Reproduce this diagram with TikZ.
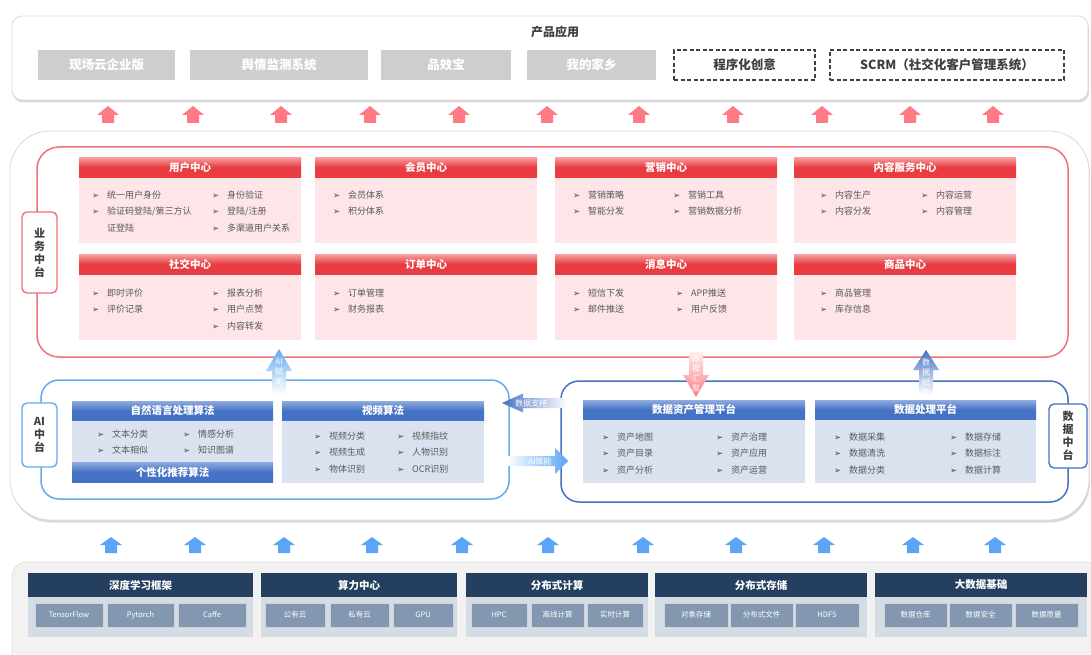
\documentclass[tikz,border=0pt]{standalone}
\usepackage{fontspec}
\setmainfont{Noto Sans CJK SC}
\newfontfamily\symf{DejaVu Sans}
\usetikzlibrary{shadows}

\definecolor{prodgray}{RGB}{208,206,204}
\definecolor{dashgray}{RGB}{64,64,64}
\definecolor{uparrred}{RGB}{255,122,132}
\definecolor{bizred}{RGB}{240,112,122}
\definecolor{hdrred}{RGB}{232,60,64}
\definecolor{hdrredlt}{RGB}{246,160,162}
\definecolor{cardpink}{RGB}{253,229,232}
\definecolor{aiblue}{RGB}{100,170,240}
\definecolor{datablue}{RGB}{68,114,196}
\definecolor{hdrbluelt}{RGB}{142,170,222}
\definecolor{cardblue}{RGB}{218,226,240}
\definecolor{itemgray}{RGB}{89,89,89}
\definecolor{basenavy}{RGB}{36,63,96}
\definecolor{basebody}{RGB}{214,220,228}
\definecolor{baseitem}{RGB}{132,151,176}
\definecolor{basebg}{RGB}{242,242,242}
\definecolor{uparrblue}{RGB}{90,165,245}

\newcommand{\cnitem}[1]{\makebox[15pt][l]{\textcolor{dashgray}{\symf\fontsize{8.5}{8.5}\selectfont ➢}}#1}

\begin{document}
\begin{tikzpicture}[
          x=1pt, y=-1pt,
          panel/.style={
              draw=gray!30,
              fill=white,
              line width=0.8pt,
              drop shadow={shadow xshift=1pt, shadow yshift=-2.5pt, opacity=0.3}
            },
          prod/.style={
              fill=prodgray,
              text=white,
              minimum height=30,
              inner sep=0,
              font=\bfseries\fontsize{12.5}{14}\selectfont
            },
          prodnew/.style={
              draw=dashgray,
              dash pattern=on 4pt off 2.5pt,
              line width=1.1pt,
              text=dashgray,
              minimum height=30,
              inner sep=0,
              font=\bfseries\fontsize{12.5}{14}\selectfont
            },
          sidelabel/.style={
              fill=white,
              rounded corners=5,
              line width=1.4pt,
              align=center,
              inner sep=0,
              text=dashgray,
              font=\bfseries\fontsize{11}{13}\selectfont
            },
          redcard/.style={
              fill=cardpink,
              minimum width=222,
              minimum height=86,
              anchor=north west,
              inner sep=0
            },
          redhead/.style={
              top color=hdrredlt,
              bottom color=hdrred,
              middle color=hdrred,
              minimum width=222,
              minimum height=20,
              anchor=north west,
              inner sep=0,
              text=white,
              font=\bfseries\fontsize{10.5}{12}\selectfont
            },
          bluecard/.style={
              fill=cardblue,
              minimum height=82,
              anchor=north west,
              inner sep=0
            },
          bluehead/.style={
              top color=hdrbluelt,
              bottom color=datablue,
              middle color=datablue,
              minimum height=19,
              anchor=north west,
              inner sep=0,
              text=white,
              font=\bfseries\fontsize{10.5}{12}\selectfont
            },
          itemcol/.style={
              anchor=north west,
              inner sep=0,
              align=left,
              text=itemgray,
              font=\fontsize{9}{16.5}\selectfont
            },
          arrtext/.style={
              text=white,
              align=center,
              inner sep=0,
              font=\fontsize{8}{10}\selectfont
            },
          basebox/.style={
              fill=basebody,
              minimum height=64,
              inner sep=0
            },
          basehead/.style={
              fill=basenavy,
              minimum height=24,
              inner sep=0,
              text=white,
              font=\bfseries\fontsize{10.5}{12}\selectfont
            },
          baseitem/.style={
              fill=baseitem,
              draw=white!60!baseitem,
              line width=0.6pt,
              minimum height=24,
              inner sep=0,
              text=white,
              font=\fontsize{7.5}{9}\selectfont
            }
        ]
        \useasboundingbox (0,0) rectangle (1091,655);

        \node[panel, rounded corners=10, minimum width=1076, minimum height=84] (prodband) at (550,58) {};
        \node[font=\bfseries\fontsize{12}{14}\selectfont, text=dashgray] (prodtitle) at (555,32) {产品应用};
        \node[prod, minimum width=137] (xcy) at (106.5,65) {现场云企业版};
        \node[prod, minimum width=178] (yq) at (279,65) {舆情监测系统};
        \node[prod, minimum width=130] (pxb) at (446,65) {品效宝};
        \node[prod, minimum width=129] (wdjx) at (591.5,65) {我的家乡};
        \node[prodnew, minimum width=141] (cxh) at (744.5,65) {程序化创意};
        \node[prodnew, minimum width=234] (scrm) at (947,65) {SCRM（社交化客户管理系统）};

        \foreach \x in {108,193,281,370,459,547,639,733,822,910,993}
          \fill[uparrred] (\x-6,123) -- (\x-6,115) -- (\x-11,115) -- (\x,106) -- (\x+11,115) -- (\x+6,115) -- (\x+6,123) -- cycle;

        \node[panel, rounded corners=40, minimum width=1079, minimum height=389] (midband) at (549.5,325.5) {};
        \node[draw=bizred, line width=1.5pt, rounded corners=22, minimum width=1031, minimum height=210] (bizbox) at (552.5,252) {};
        \node[draw=aiblue, line width=1.5pt, rounded corners=18, minimum width=468, minimum height=119] (aibox) at (275,439.5) {};
        \node[draw=datablue, line width=1.5pt, rounded corners=18, minimum width=507, minimum height=121] (databox) at (814.5,441.5) {};

        \node[sidelabel, draw=bizred, minimum width=35, minimum height=81] (bizlabel) at (39.5,252.5) {业\\务\\中\\台};
        \node[sidelabel, draw=aiblue, minimum width=35, minimum height=64] (ailabel) at (39.5,435) {AI\\中\\台};
        \node[sidelabel, draw=datablue, minimum width=38, minimum height=64] (datalabel) at (1068,436) {数\\据\\中\\台};

        \node[redcard] (user) at (79,157) {};
        \node[redhead] (userh) at (79,157) {用户中心};
        \node[itemcol] (user1) at (92,190.5) {\cnitem{统一用户身份}\\\cnitem{验证码登陆/第三方认}\\\hspace*{15pt}证登陆};
        \node[itemcol] (user2) at (212,190.5) {\cnitem{身份验证}\\\cnitem{登陆/注册}\\\cnitem{多渠道用户关系}};

        \node[redcard] (member) at (315,157) {};
        \node[redhead] (memberh) at (315,157) {会员中心};
        \node[itemcol] (member1) at (333,190.5) {\cnitem{会员体系}\\\cnitem{积分体系}};

        \node[redcard] (market) at (555,157) {};
        \node[redhead] (marketh) at (555,157) {营销中心};
        \node[itemcol] (market1) at (573,190.5) {\cnitem{营销策略}\\\cnitem{智能分发}};
        \node[itemcol] (market2) at (673,190.5) {\cnitem{营销工具}\\\cnitem{营销数据分析}};

        \node[redcard] (content) at (794,157) {};
        \node[redhead] (contenth) at (794,157) {内容服务中心};
        \node[itemcol] (content1) at (820,190.5) {\cnitem{内容生产}\\\cnitem{内容分发}};
        \node[itemcol] (content2) at (921,190.5) {\cnitem{内容运营}\\\cnitem{内容管理}};

        \node[redcard] (social) at (79,254) {};
        \node[redhead] (socialh) at (79,254) {社交中心};
        \node[itemcol] (social1) at (92,288.5) {\cnitem{即时评价}\\\cnitem{评价记录}};
        \node[itemcol] (social2) at (212,288.5) {\cnitem{报表分析}\\\cnitem{用户点赞}\\\cnitem{内容转发}};

        \node[redcard] (order) at (315,254) {};
        \node[redhead] (orderh) at (315,254) {订单中心};
        \node[itemcol] (order1) at (333,288.5) {\cnitem{订单管理}\\\cnitem{财务报表}};

        \node[redcard] (message) at (555,254) {};
        \node[redhead] (messageh) at (555,254) {消息中心};
        \node[itemcol] (message1) at (573,288.5) {\cnitem{短信下发}\\\cnitem{邮件推送}};
        \node[itemcol] (message2) at (676,288.5) {\cnitem{APP推送}\\\cnitem{用户反馈}};

        \node[redcard] (goods) at (794,254) {};
        \node[redhead] (goodsh) at (794,254) {商品中心};
        \node[itemcol] (goods1) at (820,288.5) {\cnitem{商品管理}\\\cnitem{库存信息}};

        \node[bluecard, minimum width=201] (nlp) at (72,401) {};
        \node[bluehead, minimum width=201] (nlph) at (72,401) {自然语言处理算法};
        \node[itemcol] (nlp1) at (97,429.5) {\cnitem{文本分类}\\\cnitem{文本相似}};
        \node[itemcol] (nlp2) at (183,429.5) {\cnitem{情感分析}\\\cnitem{知识图谱}};
        \node[bluehead, minimum width=201, minimum height=20] (rech) at (72,462) {个性化推荐算法};

        \node[bluecard, minimum width=202] (video) at (282,401) {};
        \node[bluehead, minimum width=202] (videoh) at (282,401) {视频算法};
        \node[itemcol] (video1) at (314,431.5) {\cnitem{视频分类}\\\cnitem{视频生成}\\\cnitem{物体识别}};
        \node[itemcol] (video2) at (397,431.5) {\cnitem{视频指纹}\\\cnitem{人物识别}\\\cnitem{OCR识别}};

        \node[bluecard, minimum width=222, minimum height=83] (asset) at (583,400) {};
        \node[bluehead, minimum width=222] (asseth) at (583,400) {数据资产管理平台};
        \node[itemcol] (asset1) at (602,432.5) {\cnitem{资产地图}\\\cnitem{资产目录}\\\cnitem{资产分析}};
        \node[itemcol] (asset2) at (716,432.5) {\cnitem{资产治理}\\\cnitem{资产应用}\\\cnitem{资产运营}};

        \node[bluecard, minimum width=221, minimum height=83] (proc) at (815,400) {};
        \node[bluehead, minimum width=221] (proch) at (815,400) {数据处理平台};
        \node[itemcol] (proc1) at (834,432.5) {\cnitem{数据采集}\\\cnitem{数据清洗}\\\cnitem{数据分类}};
        \node[itemcol] (proc2) at (950,432.5) {\cnitem{数据存储}\\\cnitem{数据标注}\\\cnitem{数据计算}};

        \shade[top color=aiblue, bottom color=white] (272,394) -- (272,371) -- (266,371) -- (279,349) -- (292,371) -- (286,371) -- (286,394) -- cycle;
        \node[arrtext] (aiup) at (279,372) {AI\\赋\\能};
        \shade[top color=white!85!uparrred, bottom color=uparrred] (689,352) -- (689,375) -- (683,375) -- (696,397) -- (709,375) -- (703,375) -- (703,352) -- cycle;
        \node[arrtext] (datadown) at (696,373) {数\\据\\汇\\聚};
        \shade[top color=datablue, bottom color=white] (919,395) -- (919,370) -- (913,370) -- (926,350) -- (939,370) -- (933,370) -- (933,395) -- cycle;
        \node[arrtext] (dataup) at (926,377) {数\\据\\赋\\能};
        \shade[left color=datablue, right color=white] (502,403) -- (523,393.5) -- (523,398) -- (567,398) -- (567,408) -- (523,408) -- (523,412.5) -- cycle;
        \node[arrtext] (datasupport) at (531,403.5) {数据支持};
        \shade[left color=white, right color=uparrblue] (507,456) -- (555,456) -- (555,448) -- (568,461) -- (555,474) -- (555,466) -- (507,466) -- cycle;
        \node[arrtext] (aienable) at (540,461) {AI赋能};

        \foreach \x in {111,195,284,372,462,548,643,736,824,913,995}
          \fill[uparrblue] (\x-6,553) -- (\x-6,545) -- (\x-11,545) -- (\x,537) -- (\x+11,545) -- (\x+6,545) -- (\x+6,553) -- cycle;

        \node[draw=gray!25, fill=basebg, line width=0.8pt, rounded corners=15, minimum width=1088, minimum height=137] (baseband) at (556,630.5) {};

        \node[basebox, minimum width=225] (dl) at (140.5,605) {};
        \node[basehead, minimum width=225] (dlh) at (140.5,585) {深度学习框架};
        \node[baseitem, minimum width=68] (tf) at (69,615) {TensorFlow};
        \node[baseitem, minimum width=67] (pt) at (140.5,615) {Pytorch};
        \node[baseitem, minimum width=68] (caffe) at (212,615) {Caffe};

        \node[basebox, minimum width=196] (power) at (359,605) {};
        \node[basehead, minimum width=196] (powerh) at (359,585) {算力中心};
        \node[baseitem, minimum width=60] (pubcloud) at (295,615) {公有云};
        \node[baseitem, minimum width=59] (pricloud) at (359.5,615) {私有云};
        \node[baseitem, minimum width=60] (gpu) at (423,615) {GPU};

        \node[basebox, minimum width=182] (dcomp) at (557,605) {};
        \node[basehead, minimum width=182] (dcomph) at (557,585) {分布式计算};
        \node[baseitem, minimum width=56] (hpc) at (499,615) {HPC};
        \node[baseitem, minimum width=53] (offline) at (557.5,615) {离线计算};
        \node[baseitem, minimum width=56] (realtime) at (615,615) {实时计算};

        \node[basebox, minimum width=212] (dstore) at (761,605) {};
        \node[basehead, minimum width=212] (dstoreh) at (761,585) {分布式存储};
        \node[baseitem, minimum width=64] (objstore) at (696,615) {对象存储};
        \node[baseitem, minimum width=63] (dfile) at (761.5,615) {分布式文件};
        \node[baseitem, minimum width=64] (hdfs) at (827,615) {HDFS};

        \node[basebox, minimum width=212] (bigdata) at (981,605) {};
        \node[basehead, minimum width=212] (bigdatah) at (981,585) {大数据基础};
        \node[baseitem, minimum width=63] (dw) at (915.5,615) {数据仓库};
        \node[baseitem, minimum width=63] (dsafe) at (980.5,615) {数据安全};
        \node[baseitem, minimum width=63] (dquality) at (1046.5,615) {数据质量};
      \end{tikzpicture}
\end{document}
